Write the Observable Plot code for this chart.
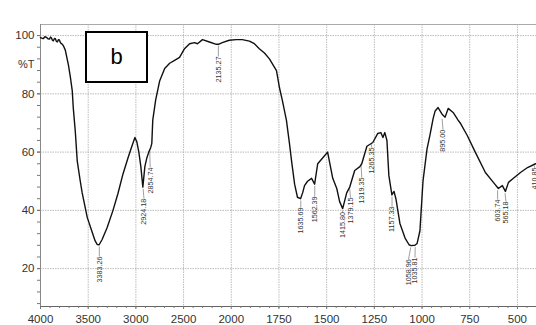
<!DOCTYPE html>
<html>
<head>
<meta charset="utf-8">
<script src="https://cdn.jsdelivr.net/npm/d3@7"></script>
<script src="https://cdn.jsdelivr.net/npm/@observablehq/plot@0.6"></script>
<style>
  html, body { margin: 0; padding: 0; background: #fff; }
  #wrap { position: relative; width: 536px; height: 325px; }
  #tag { position: absolute; left: 85px; top: 31px; width: 59px; height: 48px;
         border: 2px solid #000; font: 22px "Liberation Sans", Arial, sans-serif;
         display: flex; align-items: center; justify-content: center; color: #000; background: #fff; }
</style>
</head>
<body>
<div id="wrap"><div id="chart"></div><div id="tag">b</div></div>
<script>
// Spectrum: wavenumber (cm-1) and transmittance (%T)
const wavenumbers = [4000,3985,3969,3954,3938,3922,3906,3895,3885,3875,3865,3854,3844,3833,3823,3812,3802,3792,3781,3770,3760,3740,3708,3688,3667,3656,3635,3615,3583,3563,3510,3458,3427,3406,3385,3354,3302,3240,3188,3135,3083,3042,3010,2990,2969,2948,2927,2906,2885,2865,2844,2833,2823,2792,2750,2698,2646,2594,2542,2490,2437,2385,2354,2302,2229,2156,2135,2094,2021,1974,1942,1905,1879,1853,1826,1800,1763,1747,1732,1711,1695,1684,1668,1653,1637,1626,1616,1600,1579,1563,1547,1521,1495,1468,1447,1432,1416,1395,1379,1353,1326,1316,1289,1258,1232,1216,1205,1195,1184,1174,1158,1147,1137,1116,1089,1068,1058,1037,1026,1011,995,974,958,942,932,916,895,879,863,837,811,800,763,721,668,626,600,579,563,547,521,484,447,405];
const transmittance = [99.3,99.1,99.0,99.6,99.4,98.9,98.8,99.5,99.2,98.4,98.2,99.0,98.9,98.0,97.8,98.6,98.5,97.6,97.2,97.0,96.5,95,90,86,81,75,67,57,50,46,37.6,32.5,29.5,28.3,28.2,30,34,40,45.8,52.5,58,62,65,63.5,60,55,48,55,58,60,61.6,63,71,78,84.5,88.7,90.5,91.5,92.5,95.5,97.2,97.6,97.2,98.6,97.8,97,97,97.6,98.4,98.6,98.6,98.1,97.2,95.5,94,92,88,82,77.7,71,63,57,49,44.5,44,46,48.5,50,51,49,56,58,60,51,47.5,43,40.6,46,48,53.7,55,56,62,63.3,66.4,66.7,65,66.7,64,52,45.3,46.5,44,35.5,30.5,28.2,27.9,28.0,28.6,33,50,61,66,71.5,74,75.3,73,72,75,73.6,71,70,65.7,60,53,49.6,47.5,48.5,46.5,49.6,51,53,54.7,56];

// Peak annotations
const peakLabels = ["3383.26","2924.18","2854.74","2135.27","1635.69","1562.39","1415.80","1379.15","1319.35","1265.35","1157.33","1058.96","1035.81","895.00","603.74","565.18","410.85"];
const peakWn     = [3383.26,2924.18,2854.74,2135.27,1635.69,1562.39,1415.80,1379.15,1319.35,1265.35,1157.33,1058.96,1035.81,895.00,603.74,565.18,410.85];
const peakT      = [27.6,47.4,60.4,96.6,43.4,48.4,40.0,47.4,55.4,62.7,44.7,27.3,27.4,71.4,46.9,45.9,55.4];
const labelWn    = [3383.26,2915,2850,2135.27,1635.69,1562.39,1415.80,1375,1316,1265.35,1157.33,1071,1037,890,603.74,560,410.85];
const labelTipT  = [24.2,44,54.7,92.8,41,44.8,39.4,44.4,51.3,61.6,41.3,23.2,23.8,67.7,43.7,43,54.7];

// Axes: the spectrometer halves the scale above 2000 cm-1
const breakWn = 2000;
const xDomain = [4000, 400];
const xTicks = [4000,3500,3000,2500,2000,1750,1500,1250,1000,750,500];
const xMinor = [...d3.range(3900, 2000, -100), ...d3.range(1950, 400, -50)];
const yDomain = [7, 103.8];
const yTicks = [20,40,60,80,100];
const yMinor = d3.range(8, 101, 4);

const compress = w => (w > breakWn ? breakWn + (w - breakWn) / 2 : w);
const expand = u => (u > breakWn ? breakWn + (u - breakWn) * 2 : u);

const spectrum = wavenumbers.map((w, i) => ({wn: w, t: transmittance[i]}));
const peaks = peakLabels.map((s, i) => ({label: s, wn: peakWn[i], t: peakT[i], lwn: labelWn[i], lt: labelTipT[i]}));

const cx = key => d => compress(d[key]);

const chart = Plot.plot({
  width: 536,
  height: 325,
  marginLeft: 40,
  marginRight: 0,
  marginTop: 24,
  marginBottom: 19,
  x: {domain: xDomain.map(compress), label: null},
  y: {domain: yDomain, label: null},
  style: {fontFamily: "'Liberation Sans', Arial, sans-serif", fontSize: "11px", color: "#333", background: "#fff"},
  marks: [
    Plot.gridX(xTicks.map(compress), {stroke: "#aaa", strokeOpacity: 0.8, strokeDasharray: "1.5,1"}),
    Plot.gridY(yTicks, {stroke: "#aaa", strokeOpacity: 0.8, strokeDasharray: "1.5,1"}),
    Plot.ruleY([yDomain[1]], {stroke: "#aaa", strokeWidth: 1}),
    Plot.ruleX([compress(xDomain[0])], {stroke: "#888", strokeWidth: 1}),
    Plot.ruleY([yDomain[0]], {stroke: "#666", strokeWidth: 1}),
    Plot.axisX({ticks: xTicks.map(compress), tickSize: 3, tickPadding: 5.5, tickFormat: u => String(expand(u)), fontSize: 11.5, stroke: "#777"}),
    Plot.axisX({ticks: xMinor.map(compress), tickSize: 2, tickFormat: () => "", stroke: "#777"}),
    Plot.axisY({ticks: yTicks, tickSize: 3, tickPadding: 3, tickFormat: d => String(d), fontSize: 11.5, stroke: "#777"}),
    Plot.axisY({ticks: yMinor, tickSize: 3, tickFormat: () => "", stroke: "#777"}),
    Plot.axisY({ticks: [90], tickSize: 0, tickPadding: 6, tickFormat: () => "%T"}),
    Plot.link(peaks, {x1: cx("wn"), y1: "t", x2: cx("lwn"), y2: "lt", stroke: "#888", strokeWidth: 0.8}),
    Plot.text(peaks, {x: cx("lwn"), y: "lt", text: "label", rotate: -90, textAnchor: "end", fontSize: 7.2, fill: "#333", fontFamily: "'Liberation Sans', Arial, sans-serif"}),
    Plot.line(spectrum, {x: cx("wn"), y: "t", stroke: "#111", strokeWidth: 1.4, curve: "linear"})
  ]
});
document.getElementById("chart").appendChild(chart);
</script>
</body>
</html>
